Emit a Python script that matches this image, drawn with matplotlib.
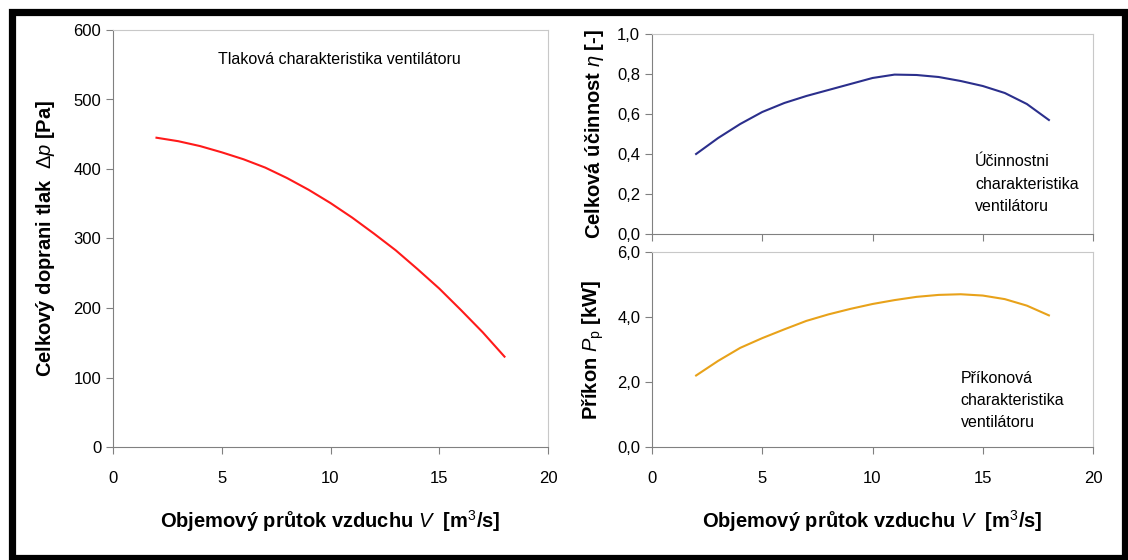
import matplotlib.pyplot as plt
from matplotlib.patches import Rectangle
from matplotlib.ticker import FuncFormatter

# fan curves
flow = [2, 3, 4, 5, 6, 7, 8, 9, 10, 11, 12, 13, 14, 15, 16, 17, 18]
pressure = [445, 440, 433, 424, 414, 402, 387, 370, 351, 330, 307, 283, 256, 228, 197, 165, 130]
efficiency = [0.40, 0.48, 0.55, 0.61, 0.655, 0.69, 0.72, 0.75, 0.78, 0.797, 0.795, 0.785, 0.765, 0.74, 0.705, 0.65, 0.57]
power = [2.20, 2.65, 3.05, 3.35, 3.62, 3.88, 4.08, 4.25, 4.40, 4.52, 4.62, 4.68, 4.70, 4.66, 4.55, 4.35, 4.05]

x_ticks = [0, 5, 10, 15, 20]

plt.rcParams['font.family'] = ['Liberation Sans', 'DejaVu Sans']
plt.rcParams['mathtext.fontset'] = 'custom'
plt.rcParams['mathtext.it'] = 'Liberation Sans:italic'
plt.rcParams['mathtext.rm'] = 'Liberation Sans'

W, H = 1128, 560
fig = plt.figure(figsize=(W / 100, H / 100), dpi=100)


def box(x0, y0, x1, y1):
    return [x0 / W, 1 - y1 / H, (x1 - x0) / W, (y1 - y0) / H]


def style(ax):
    for s in ['left', 'bottom']:
        ax.spines[s].set_color('#808080')
    for s in ['top', 'right']:
        ax.spines[s].set_color('#c8c8c8')
    ax.tick_params(direction='out', length=5, color='#808080', labelsize=12)
    ax.tick_params(axis='x', pad=12)
    ax.set_xlim(0, 20)
    ax.set_xticks(x_ticks)


comma1 = FuncFormatter(lambda v, p: ('%.1f' % v).replace('.', ','))
xlab = r'Objemový průtok vzduchu $V$  [m$^3$/s]'

ax1 = fig.add_axes(box(113, 30, 548, 447))
ax1.plot(flow, pressure, color='#ff1a1a', lw=1.5)
style(ax1)
ax1.set_ylim(0, 600)
ax1.set_yticks(range(0, 601, 100))
ax1.set_ylabel(r'Celkový doprani tlak  $\Delta p$ [Pa]', fontsize=14.5, fontweight='bold', labelpad=12)
ax1.set_xlabel(xlab, fontsize=14.5, fontweight='bold', labelpad=16)
ax1.text(10.4, 557, 'Tlaková charakteristika ventilátoru', fontsize=11.5, ha='center', va='center')

ax2 = fig.add_axes(box(652, 34, 1093, 234))
ax2.plot(flow, efficiency, color='#2b2f8c', lw=1.5)
style(ax2)
ax2.set_ylim(0, 1.0)
ax2.set_yticks([0, 0.2, 0.4, 0.6, 0.8, 1.0])
ax2.yaxis.set_major_formatter(comma1)
ax2.set_xticklabels([])
ax2.set_ylabel(r'Celková účinnost $\eta$ [-]', fontsize=14.5, fontweight='bold', labelpad=8)
ax2.text(14.65, 0.25, 'Účinnostni\ncharakteristika\nventilátoru', fontsize=11.5, ha='left', va='center', linespacing=1.6)

ax3 = fig.add_axes(box(652, 252, 1093, 447))
ax3.plot(flow, power, color='#e8a21a', lw=1.5)
style(ax3)
ax3.set_ylim(0, 6.0)
ax3.set_yticks([0, 2, 4, 6])
ax3.yaxis.set_major_formatter(comma1)
ax3.set_ylabel(r'Příkon $P_\mathrm{p}$ [kW]', fontsize=14.5, fontweight='bold', labelpad=8)
ax3.set_xlabel(xlab, fontsize=14.5, fontweight='bold', labelpad=16)
ax3.text(14.0, 1.44, 'Příkonová\ncharakteristika\nventilátoru', fontsize=11.5, ha='left', va='center', linespacing=1.6)

# black frame round the picture
fig.patches.append(Rectangle((12 / W, 1 - 557.5 / H), 1112.5 / W, 545.5 / H,
                             transform=fig.transFigure, fill=False,
                             edgecolor='black', lw=5.2))

fig.savefig('out.png', dpi=100)
